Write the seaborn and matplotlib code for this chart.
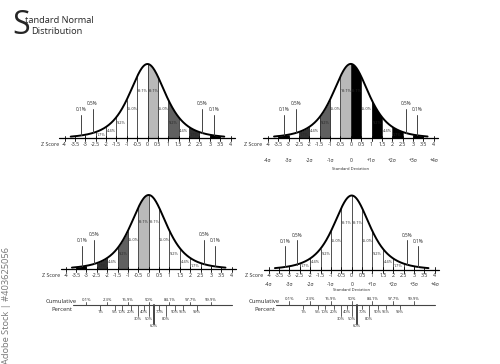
import numpy as np
import pandas as pd
import matplotlib.pyplot as plt
import seaborn as sns

# segment boundaries (z) and the area of each segment
seg_edges = [-3.5, -3, -2.5, -2, -1.5, -1, -0.5, 0, 0.5, 1, 1.5, 2, 2.5, 3, 3.5]
seg_pct = ["0.1%", "0.5%", "1.7%", "4.4%", "9.2%", "15.0%", "19.1%",
           "19.1%", "15.0%", "9.2%", "4.4%", "1.7%", "0.5%", "0.1%"]
# tail segments get a callout line instead of an inside label
callout_z = [-3.2, -2.65, None, None, None, None, None,
             None, None, None, None, None, 2.65, 3.2]

z_ticks = [-4, -3.5, -3, -2.5, -2, -1.5, -1, -0.5, 0, 0.5, 1, 1.5, 2, 2.5, 3, 3.5, 4]
sigma_z = [-4, -3, -2, -1, 0, 1, 2, 3, 4]
sigma_labels = ["-4σ", "-3σ", "-2σ", "-1σ", "0", "+1σ", "+2σ", "+3σ", "+4σ"]

cum_top_z = [-3, -2, -1, 0, 1, 2, 3]
cum_top_labels = ["0.1%", "2.3%", "15.9%", "50%", "84.1%", "97.7%", "99.9%"]
cum_low_z = [-2.33, -1.64, -1.28, -0.84, -0.52, -0.25, 0, 0.25, 0.52, 0.84, 1.28, 1.64, 2.33]
cum_low_labels = ["1%", "5%", "10%", "20%", "30%", "40%", "50%", "60%", "70%", "80%", "90%", "95%", "99%"]
cum_low_tier = [0, 0, 0, 0, 1, 0, 1, 2, 0, 1, 0, 0, 0]

# shading level of each segment per panel (0 = none ... 4 = black)
shade_p1 = [0, 0, 0, 0, 0, 0, 0, 1, 0, 2, 0, 3, 0, 4]
shade_p2 = [4, 0, 3, 0, 2, 0, 1, 4, 0, 4, 0, 4, 0, 4]
shade_p3 = [4, 0, 3, 0, 2, 0, 1, 0, 0, 0, 0, 0, 0, 0]
shade_p4 = [0] * 14
shade_colors = ["white", "#b9b9b9", "#606060", "#333333", "#000000"]

sns.set_theme(style="white")
plt.rcParams['font.family'] = ['Open Sans', 'DejaVu Sans']

W, H = 500, 364
UX, UY = 20.75, 74.5
fig = plt.figure(figsize=(W / 100, H / 100), dpi=100)


def bell(z):
    z = np.asarray(z, dtype=float)
    return (1 + (z / 0.93) ** 2 / 3) ** -2


def make_axes(x0, yax, zlim=(-7.5, 5.0), ylim=(-0.95, 1.1)):
    left = (x0 + zlim[0] * UX) / W
    width = (zlim[1] - zlim[0]) * UX / W
    bottom = 1 - (yax - ylim[0] * UY) / H
    height = (ylim[1] - ylim[0]) * UY / H
    ax = fig.add_axes([left, bottom, width, height])
    ax.set_xlim(zlim)
    ax.set_ylim(ylim)
    ax.axis("off")
    ax.patch.set_visible(False)
    return ax


def draw_panel(ax, shades):
    zz = np.linspace(-3.7, 3.7, 500)
    for i in range(len(seg_pct)):
        a, b = seg_edges[i], seg_edges[i + 1]
        if shades[i]:
            zs = np.linspace(a, b, 60)
            ax.fill_between(zs, 0, bell(zs), color=shade_colors[shades[i]], lw=0)
    for e in seg_edges[1:-1]:
        ax.plot([e, e], [0, bell(e)], color="#222222", lw=0.55)
    curve = pd.DataFrame({"z": zz, "y": bell(zz)})
    sns.lineplot(data=curve, x="z", y="y", ax=ax, color="black", lw=1.4)
    for i, lab in enumerate(seg_pct):
        a, b = seg_edges[i], seg_edges[i + 1]
        if callout_z[i] is not None:
            cz = callout_z[i]
            top = 0.32 if abs(cz) > 3 else 0.40
            ax.plot([cz, cz], [bell(cz), top], color="#444444", lw=0.7)
            ax.text(cz, top + 0.03, lab, ha="center", va="bottom", fontsize=3.4)
        else:
            outer = a if abs(a) > abs(b) else b
            ax.text((a + b) / 2, 0.78 * bell(outer) - 0.015, lab,
                    ha="center", va="center", fontsize=2.8)
    # z axis
    ax.plot([-4.25, 4.2], [0, 0], color="black", lw=0.9)
    for t in z_ticks:
        ax.plot([t, t], [-0.035, 0.035], color="black", lw=0.6)
        ax.text(t, -0.08, f"{t:g}", ha="center", va="center", fontsize=3.8)
    ax.text(-4.25, -0.08, "Z Score", ha="right", va="center", fontsize=3.8)


def draw_sigma(ax, y, gap):
    for t, lab in zip(sigma_z, sigma_labels):
        ax.text(t, y, lab, ha="center", va="center", fontsize=3.6)
    ax.text(0, y - gap, "Standard Deviation", ha="center", va="center", fontsize=3.0)


def draw_cumulative(ax, y):
    ax.plot([-3.66, 4.0], [y, y], color="#444444", lw=0.8)
    ax.text(-4.2, y + 0.045, "Cumulative", ha="center", va="center", fontsize=4.2)
    ax.text(-4.2, y - 0.055, "Percent", ha="center", va="center", fontsize=4.2)
    for t, lab in zip(cum_top_z, cum_top_labels):
        ax.plot([t, t], [y, y + 0.05], color="#444444", lw=0.6)
        ax.text(t, y + 0.075, lab, ha="center", va="center", fontsize=3.1)
    for t, lab, tier in zip(cum_low_z, cum_low_labels, cum_low_tier):
        depth = [0.06, 0.15, 0.25][tier]
        ax.plot([t, t], [y, y - depth], color="#444444", lw=1.4 if tier == 2 else 0.6)
        ax.text(t, y - depth - 0.035, lab, ha="center", va="center", fontsize=2.9)


ax1 = make_axes(147.5, 138.5)
draw_panel(ax1, shade_p1)

ax2 = make_axes(350.8, 138.4)
draw_panel(ax2, shade_p2)
draw_sigma(ax2, -0.29, 0.12)

ax3 = make_axes(148.7, 269.5)
draw_panel(ax3, shade_p3)
draw_cumulative(ax3, -0.48)

ax4 = make_axes(351.7, 270.0)
draw_panel(ax4, shade_p4)
draw_sigma(ax4, -0.19, 0.085)
draw_cumulative(ax4, -0.47)

# title
fig.text(12 / W, 1 - 34 / H, "S", fontsize=23, ha="left", va="baseline")
fig.text(25 / W, 1 - 23 / H, "tandard Normal", fontsize=6.7, ha="left", va="baseline")
fig.text(31 / W, 1 - 33.5 / H, "Distribution", fontsize=6.7, ha="left", va="baseline")

fig.text(7 / W, 0, "Adobe Stock | #403625056", rotation=90, fontsize=6.7,
         color="#777777", ha="center", va="bottom")

fig.savefig("out.png", dpi=100)
